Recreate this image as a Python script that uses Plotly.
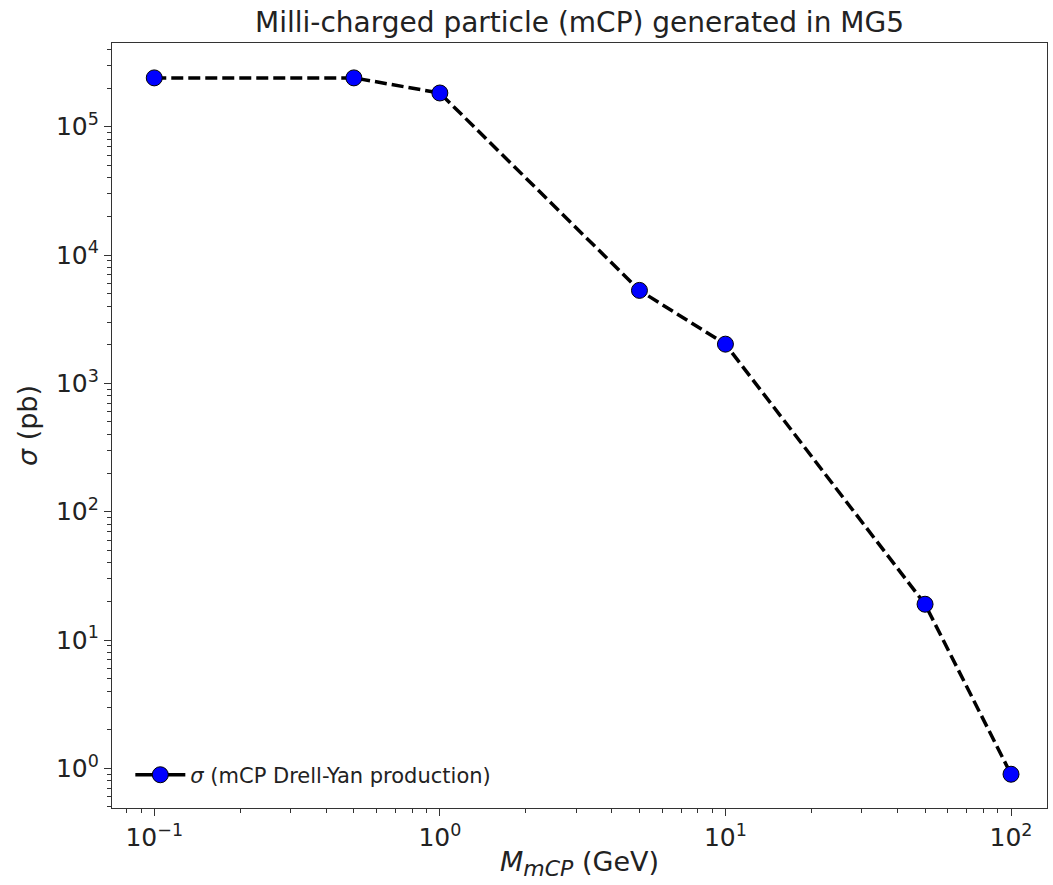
import plotly.graph_objects as go

mass_gev = [0.1, 0.5, 1, 5, 10, 50, 100]
sigma_pb = [2.4e5, 2.4e5, 1.83e5, 5.3e3, 2.02e3, 19.0, 0.9]
series_name = "<i>σ</i> (mCP Drell-Yan production)"
title_text = "Milli-charged particle (mCP) generated in MG5"
x_tickvals = [0.1, 1, 10, 100]
x_ticktext = ["10<sup>−1</sup>", "10<sup>0</sup>", "10<sup>1</sup>", "10<sup>2</sup>"]
y_tickvals = [1, 10, 100, 1e3, 1e4, 1e5]
y_ticktext = ["10<sup>0</sup>", "10<sup>1</sup>", "10<sup>2</sup>", "10<sup>3</sup>", "10<sup>4</sup>", "10<sup>5</sup>"]

def minor_vals(lo_exp, hi_exp):
    out = []
    for e in range(lo_exp, hi_exp + 1):
        for m in range(2, 10):
            out.append(m * 10.0 ** e)
    return out

font_family = "DejaVu Sans"
txt = "#222222"

fig = go.Figure()
fig.add_trace(go.Scatter(
    x=mass_gev, y=sigma_pb, mode="lines+markers",
    line=dict(color="black", width=3.5, dash="12px,5px"),
    marker=dict(color="blue", size=16, line=dict(color="black", width=1)),
    showlegend=False,
))
fig.add_trace(go.Scatter(
    x=[None], y=[None], mode="lines+markers", name=series_name,
    line=dict(color="black", width=3.5),
    marker=dict(color="blue", size=16, line=dict(color="black", width=1)),
))

axis_common = dict(
    showline=True, linecolor="#333333", linewidth=1.3, mirror=True,
    ticks="outside", ticklen=7, tickwidth=1.2, tickcolor="#333333",
    showgrid=False, zeroline=False,
    tickfont=dict(family=font_family, size=25, color=txt),
)

fig.update_xaxes(
    type="log", range=[-1.148, 2.126],
    tickvals=x_tickvals, ticktext=x_ticktext,
    minor=dict(tickvals=minor_vals(-2, 2), ticks="outside", ticklen=4, tickcolor="#333333", showgrid=False),
    title=dict(text="<i>M</i><sub><i><span style='font-size:22px'>mCP</span></i></sub> (GeV)",
               font=dict(family=font_family, size=27, color=txt), standoff=0),
    **axis_common,
)
fig.update_yaxes(
    type="log", range=[-0.309, 5.652],
    tickvals=y_tickvals, ticktext=y_ticktext,
    minor=dict(tickvals=minor_vals(-1, 5), ticks="outside", ticklen=4, tickcolor="#333333", showgrid=False),
    title=dict(text="<i>σ</i> (pb)", font=dict(family=font_family, size=27, color=txt), standoff=10),
    **axis_common,
)

fig.update_layout(
    width=1053, height=885,
    margin=dict(l=112, r=6, t=43, b=77),
    paper_bgcolor="white", plot_bgcolor="white",
    title=dict(text=title_text, x=(112 + 1047) / 2 / 1053, xanchor="center", y=1 - 22 / 885, yanchor="middle",
               font=dict(family=font_family, size=28, color=txt)),
    legend=dict(x=0.0196, y=0.043, xanchor="left", yanchor="middle", bgcolor="rgba(255,255,255,0)",
                itemwidth=50, font=dict(family=font_family, size=21, color=txt)),
    font=dict(family=font_family),
)

fig.write_html("out.html")
